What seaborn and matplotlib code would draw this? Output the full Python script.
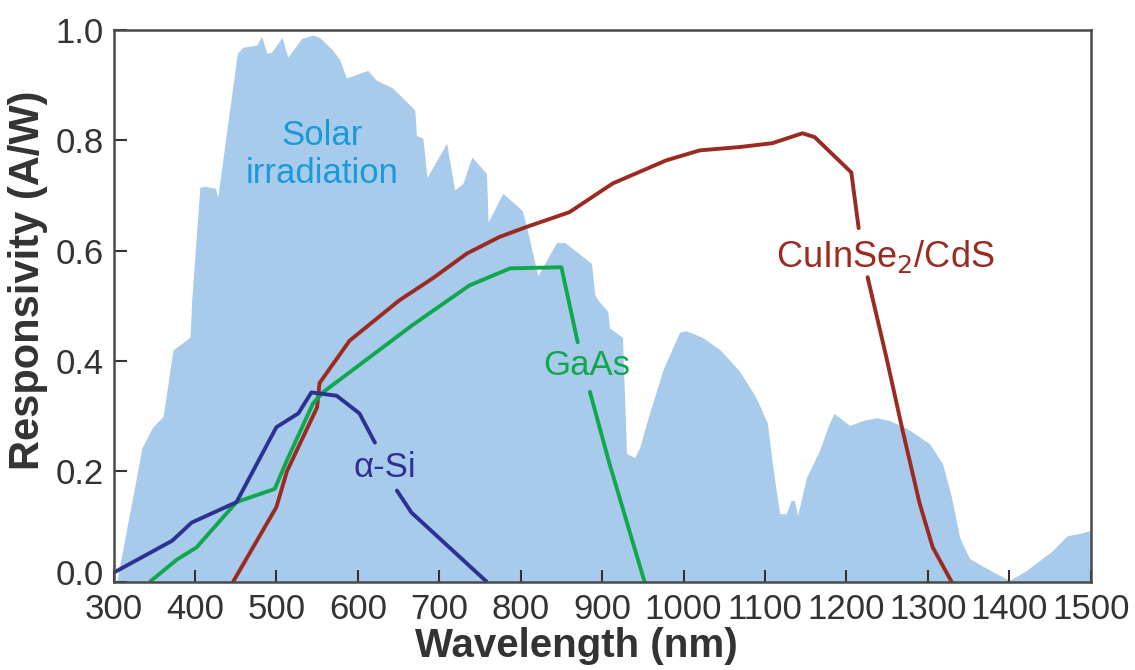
"""Responsivity of solar cell materials vs. the solar spectrum"""

import matplotlib.pyplot as plt
from matplotlib.transforms import ScaledTranslation
import seaborn as sns
import pandas as pd

# Solar irradiation (relative, shown as filled area)
solar_wl = [304, 335, 348, 361, 373, 394, 396, 406, 412, 425, 428, 452, 459, 476, 482,
            488, 494, 507, 514, 531, 545, 553, 569, 578, 586, 612, 623, 643, 670, 672,
            680, 685, 709, 719, 729, 740, 758, 760, 778, 802, 809, 821, 827, 844, 854,
            887, 891, 895, 907, 909, 925, 930, 940, 946, 958, 975, 995, 1003, 1023, 1045,
            1068, 1089, 1103, 1109, 1118, 1126, 1132, 1136, 1140, 1151, 1167, 1179, 1185,
            1204, 1220, 1237, 1253, 1274, 1302, 1318, 1329, 1339, 1351, 1372, 1400, 1421,
            1453, 1471, 1486, 1500]
solar_val = [0.0, 0.243, 0.28, 0.30, 0.42, 0.443, 0.51, 0.715, 0.717, 0.713, 0.697, 0.958,
             0.969, 0.973, 0.989, 0.958, 0.96, 0.987, 0.951, 0.985, 0.991, 0.987, 0.964,
             0.946, 0.913, 0.927, 0.909, 0.895, 0.855, 0.809, 0.804, 0.733, 0.795, 0.71,
             0.722, 0.77, 0.74, 0.652, 0.704, 0.673, 0.632, 0.555, 0.57, 0.615, 0.615,
             0.577, 0.52, 0.51, 0.49, 0.46, 0.443, 0.232, 0.225, 0.243, 0.305, 0.385,
             0.452, 0.455, 0.443, 0.42, 0.383, 0.334, 0.287, 0.214, 0.123, 0.123, 0.147,
             0.147, 0.12, 0.189, 0.238, 0.287, 0.305, 0.283, 0.292, 0.297, 0.292, 0.278,
             0.25, 0.214, 0.153, 0.08, 0.042, 0.024, 0.002, 0.02, 0.056, 0.083, 0.087, 0.093]

# CuInSe2/CdS (line broken around its label)
cis_wl_1 = [447, 500, 513, 550, 553, 590, 651, 692, 734, 774, 807, 860, 913, 979, 1020,
            1069, 1109, 1146, 1161, 1206, 1215]
cis_val_1 = [0.0, 0.135, 0.2, 0.316, 0.36, 0.437, 0.51, 0.55, 0.595, 0.625, 0.643, 0.67,
             0.722, 0.764, 0.782, 0.788, 0.795, 0.813, 0.806, 0.742, 0.641]
cis_wl_2 = [1226, 1249, 1269, 1290, 1306, 1329]
cis_val_2 = [0.552, 0.407, 0.274, 0.141, 0.062, 0.0]

# GaAs
gaas_wl_1 = [345, 378, 402, 451, 498, 513, 545, 557, 667, 737, 787, 850, 870]
gaas_val_1 = [0.0, 0.04, 0.062, 0.144, 0.168, 0.22, 0.323, 0.343, 0.465, 0.537, 0.568,
              0.57, 0.434]
gaas_wl_2 = [885, 909, 952]
gaas_val_2 = [0.344, 0.214, 0.0]

# a-Si
asi_wl_1 = [300, 372, 396, 451, 500, 527, 543, 574, 602, 621]
asi_val_1 = [0.016, 0.074, 0.107, 0.144, 0.28, 0.305, 0.343, 0.337, 0.305, 0.252]
asi_wl_2 = [648, 666, 758]
asi_val_2 = [0.165, 0.125, 0.0]

sns.set_style("ticks")
plt.rcParams["font.family"] = ["Liberation Sans", "DejaVu Sans"]

fig, ax = plt.subplots(figsize=(11.35, 6.7), dpi=100)
fig.subplots_adjust(left=0.1, right=0.961, top=0.955, bottom=0.132)

ax.fill_between(solar_wl, solar_val, 0, color="#a9cbeb", lw=0, zorder=1)

red, green, navy = "#9b2a20", "#0fa84e", "#2d3192"
segments = [
    (cis_wl_1, cis_val_1, red), (cis_wl_2, cis_val_2, red),
    (gaas_wl_1, gaas_val_1, green), (gaas_wl_2, gaas_val_2, green),
    (asi_wl_1, asi_val_1, navy), (asi_wl_2, asi_val_2, navy),
]
for wl, val, col in segments:
    seg = pd.DataFrame({"wl": wl, "val": val})
    sns.lineplot(data=seg, x="wl", y="val", ax=ax, color=col, lw=2.8,
                 sort=False, estimator=None, zorder=3)

ax.text(556, 0.775, "Solar\nirradiation", color="#1a9ad8", fontsize=25,
        ha="center", va="center", linespacing=1.2)
ax.text(1248, 0.59, "CuInSe$_2$/CdS", color=red, fontsize=26, ha="center", va="center")
ax.text(881, 0.392, "GaAs", color=green, fontsize=25, ha="center", va="center")
ax.text(633, 0.207, "α-Si", color=navy, fontsize=25, ha="center", va="center")

ax.set_axisbelow(False)
ax.set_xlim(300, 1500)
ax.set_ylim(0, 1.0)
ax.set_xticks(range(300, 1501, 100))
ax.set_yticks([0.0, 0.2, 0.4, 0.6, 0.8, 1.0])
ax.set_yticklabels(["0.0", "0.2", "0.4", "0.6", "0.8", "1.0"])
ax.tick_params(direction="in", length=9, width=1.5, color="#333333",
               labelsize=25, labelcolor="#333333")
ax.tick_params(axis="x", pad=8)
ax.tick_params(axis="y", pad=7)
for sp in ax.spines.values():
    sp.set_linewidth(1.8)
    sp.set_color("#4a4a4a")
    sp.set_zorder(4)

# lift the "0.0" label a little, as in the original, so it clears "300"
lab0 = ax.get_yticklabels()[0]
lab0.set_transform(lab0.get_transform() + ScaledTranslation(0, 7 / 72, fig.dpi_scale_trans))

ax.set_xlabel("Wavelength (nm)", fontsize=29, fontweight="bold", color="#333333")
ax.set_ylabel("Responsivity (A/W)", fontsize=30, fontweight="bold", color="#333333")
ax.xaxis.set_label_coords(0.474, -0.082)
ax.yaxis.set_label_coords(-0.067, 0.546)

fig.savefig("out.png", dpi=100)
